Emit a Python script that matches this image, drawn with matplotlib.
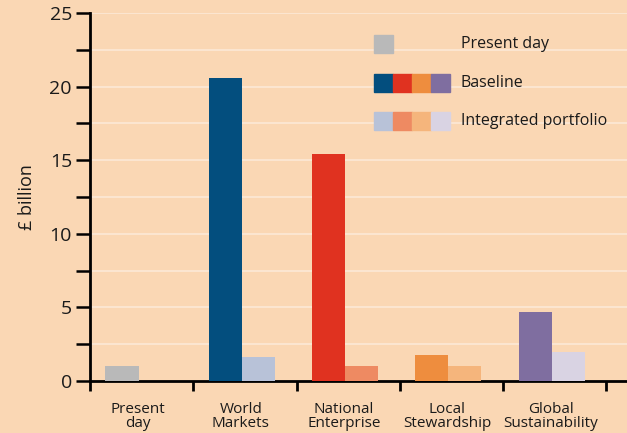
import matplotlib.pyplot as plt
from matplotlib.patches import Rectangle

# data
categories = ["Present\nday", "World\nMarkets", "National\nEnterprise", "Local\nStewardship", "Global\nSustainability"]
baseline = [1.0, 20.6, 15.4, 1.75, 4.7]
integrated = [None, 1.6, 1.0, 1.0, 1.95]
base_colors = ["#B9B9B9", "#034E7E", "#E03220", "#EE8D3E", "#7F6EA0"]
int_colors = [None, "#B8C2D8", "#EE8A62", "#F5B57C", "#D9D3E3"]
legend_labels = ["Present day", "Baseline", "Integrated portfolio"]

bg = "#FAD7B4"
plt.rcParams['font.family'] = ['Open Sans', 'DejaVu Sans']

fig = plt.figure(figsize=(6.27, 4.33), dpi=100, facecolor=bg)
ax = fig.add_axes([90 / 627, 1 - 381 / 433, 537 / 627, 368 / 433], facecolor=bg)

w = 0.32
off = 0.15
for i in range(len(categories)):
    ax.bar(i + off, baseline[i], width=w, align='edge', color=base_colors[i], zorder=3)
    if integrated[i] is not None:
        ax.bar(i + off + w, integrated[i], width=w, align='edge', color=int_colors[i], zorder=3)

ax.set_xlim(0, 5.2)
ax.set_ylim(0, 25)
ax.set_yticks([0, 5, 10, 15, 20, 25])
ax.set_yticks([2.5, 7.5, 12.5, 17.5, 22.5], minor=True)
for y in [2.5, 5, 7.5, 10, 12.5, 15, 17.5, 20, 22.5, 25]:
    ax.axhline(y, color="#FCE9D6", lw=1.2, zorder=1)

ax.set_xticks(range(6))
ax.set_xticklabels([])
ax.set_xticks([i + 0.46 for i in range(5)], minor=True)
ax.set_xticklabels(categories, minor=True, fontsize=11, linespacing=0.9, color="#1a1a1a")
ax.tick_params(axis='x', which='major', direction='out', length=7, width=2, color='black')
ax.tick_params(axis='x', which='minor', length=0, pad=15)
ax.tick_params(axis='y', which='both', direction='out', length=10, width=1.8, color='black', labelsize=14, pad=3, labelcolor="#1a1a1a")

for s in ['top', 'right']:
    ax.spines[s].set_visible(False)
ax.spines['left'].set_linewidth(2)
ax.spines['bottom'].set_linewidth(2)
ax.spines['bottom'].set_bounds(0, 5.2)

ax.set_ylabel("£ billion", fontsize=13, color="#1a1a1a", labelpad=10)

# legend drawn as swatch rows (pixel positions converted to figure fraction)
def fx(px):
    return px / 627

def fy(py):
    return 1 - py / 433

sw, sh = 19, 18
rows = [(35, ["#B9B9B9"]), (74, base_colors[1:]), (112, int_colors[1:])]
for (top, cols), lab in zip(rows, legend_labels):
    for k, c in enumerate(cols):
        fig.patches.append(Rectangle((fx(374 + k * sw), fy(top + sh)), fx(sw), sh / 433,
                                     transform=fig.transFigure, color=c, figure=fig))
    fig.text(fx(461), fy(top + sh / 2), lab, fontsize=11.5, va='center', ha='left', color="#1a1a1a")

fig.savefig("out.png", dpi=100, facecolor=bg)
